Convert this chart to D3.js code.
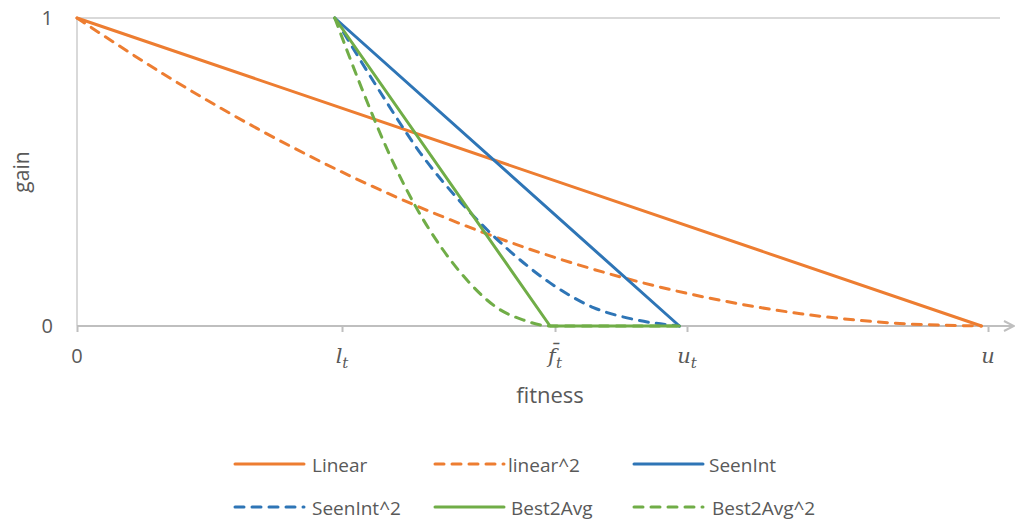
<!DOCTYPE html>
<html>
<head>
<meta charset="utf-8">
<script src="https://cdn.jsdelivr.net/npm/d3@7"></script>
<style>
  html, body { margin: 0; padding: 0; background: #fff; }
  svg { display: block; }
  text { font-family: "Open Sans", "Noto Sans", sans-serif; fill: #595959; }
  .math { font-family: "DejaVu Serif", "Liberation Serif", serif; font-style: italic; fill: #595959; }
</style>
</head>
<body>
<svg id="chart" width="1016" height="526"></svg>
<script>
// Fitness positions (u = 1)
const lowT = 0.285, avgT = 0.523, upT = 0.666, upper = 1;

// x-axis ticks: position and label parts (main letter, subscript, overbar)
const tickValues = [0, 0.293, 0.5285, 0.6744, 1.0072];
const tickMain = ["0", "l", "f", "u", "u"];
const tickSub = ["", "t", "t", "t", ""];
const tickBar = [false, false, true, false, false];

// gain curves
const linear = [[0, 1], [upper, 0]];
const linearSq = [
  [0, 1], [0.1, 0.81], [0.2, 0.64], [0.3, 0.49], [0.4, 0.36], [0.5, 0.25],
  [0.6, 0.16], [0.7, 0.09], [0.8, 0.04], [0.9, 0.01], [1, 0]
];
const seenInt = [[lowT, 1], [upT, 0]];
const seenIntSq = [
  [0.285, 1], [0.333, 0.77], [0.380, 0.56], [0.428, 0.39], [0.476, 0.25],
  [0.523, 0.14], [0.571, 0.06], [0.618, 0.02], [0.666, 0]
];
const best2Avg = [[lowT, 1], [avgT, 0], [upT, 0]];
const best2AvgSq = [
  [0.285, 1], [0.315, 0.77], [0.345, 0.56], [0.374, 0.39], [0.404, 0.25],
  [0.434, 0.14], [0.464, 0.06], [0.493, 0.02], [0.523, 0], [0.666, 0]
];

const seriesNames = ["Linear", "linear^2", "SeenInt", "SeenInt^2", "Best2Avg", "Best2Avg^2"];
const seriesData = [linear, linearSq, seenInt, seenIntSq, best2Avg, best2AvgSq];
const seriesColors = ["#ED7D31", "#ED7D31", "#2E75B6", "#2E75B6", "#70AD47", "#70AD47"];
const seriesDashed = [false, true, false, true, false, true];

const svg = d3.select("#chart");
const x = d3.scaleLinear().domain([0, 1]).range([77, 981.5]);
const y = d3.scaleLinear().domain([0, 1]).range([326, 18]);

const DASH = "9,8";

// top gridline and vertical axis
svg.append("line").attr("x1", x(0)).attr("x2", 1000).attr("y1", y(1)).attr("y2", y(1))
  .attr("stroke", "#d9d9d9").attr("stroke-width", 2);
svg.append("line").attr("x1", x(0)).attr("x2", x(0)).attr("y1", y(1)).attr("y2", y(0))
  .attr("stroke", "#d9d9d9").attr("stroke-width", 2);

// y labels
const yAxis = d3.axisLeft(y).tickValues([0, 1]).tickFormat(d3.format("d")).tickSize(0).tickPadding(24);
const gy = svg.append("g").attr("transform", `translate(${x(0)},0)`).call(yAxis);
gy.select(".domain").remove();
gy.selectAll("text").style("font-family", "'Open Sans', 'Noto Sans', sans-serif")
  .attr("font-size", 20).attr("fill", "#595959");

// x axis with arrow head
svg.append("defs").append("marker")
  .attr("id", "arrow").attr("viewBox", "0 0 12 12").attr("refX", 11).attr("refY", 6)
  .attr("markerWidth", 12).attr("markerHeight", 12).attr("markerUnits", "userSpaceOnUse")
  .attr("orient", "auto")
  .append("path").attr("d", "M1,1 L11,6 L1,11").attr("fill", "none")
  .attr("stroke", "#bfbfbf").attr("stroke-width", 2);

svg.append("line").attr("x1", x(0)).attr("x2", 1014).attr("y1", y(0)).attr("y2", y(0))
  .attr("stroke", "#bfbfbf").attr("stroke-width", 2).attr("marker-end", "url(#arrow)");

const xAxis = d3.axisBottom(x).tickValues(tickValues).tickSize(6).tickFormat("");
const gx = svg.append("g").attr("transform", `translate(0,${y(0)})`).call(xAxis);
gx.select(".domain").remove();
gx.selectAll(".tick line").attr("stroke", "#bfbfbf").attr("stroke-width", 2);

// x tick labels
tickValues.forEach((v, i) => {
  const t = svg.append("text").attr("x", x(v)).attr("y", 363)
    .attr("text-anchor", "middle");
  if (i === 0) {
    t.text(tickMain[i]).attr("font-size", 20);
    return;
  }
  t.attr("class", "math").attr("font-size", 21);
  t.append("tspan").text(tickBar[i] ? tickMain[i] + "\u0304" : tickMain[i]);
  if (tickSub[i]) t.append("tspan").attr("dy", 5).attr("font-size", 15).text(tickSub[i]);
});

// axis titles
svg.append("text").attr("x", 550).attr("y", 403).attr("text-anchor", "middle")
  .attr("font-size", 22).text("fitness");
svg.append("text").attr("transform", `translate(29,${(y(0) + y(1)) / 2}) rotate(-90)`)
  .attr("text-anchor", "middle").attr("font-size", 21).text("gain");

// curves: straight segments for the linear rules, smooth for the squared ones
const straight = d3.line().x(d => x(d[0])).y(d => y(d[1]));
const smooth = d3.line().x(d => x(d[0])).y(d => y(d[1])).curve(d3.curveMonotoneX);
seriesData.forEach((data, i) => {
  svg.append("path").datum(data).attr("d", seriesDashed[i] ? smooth : straight)
    .attr("fill", "none").attr("stroke", seriesColors[i]).attr("stroke-width", 3)
    .attr("stroke-linecap", "round").attr("stroke-linejoin", "round")
    .attr("stroke-dasharray", seriesDashed[i] ? DASH : null);
});

// legend
const legendX = [235, 435, 634];
const legendY = [464, 507];
const legendTextX = [312, 508, 709];
seriesNames.forEach((name, i) => {
  const col = i % 3, row = Math.floor(i / 3);
  const g = svg.append("g");
  g.append("line").attr("x1", legendX[col]).attr("x2", legendX[col] + 69)
    .attr("y1", legendY[row]).attr("y2", legendY[row])
    .attr("stroke", seriesColors[i]).attr("stroke-width", 3)
    .attr("stroke-linecap", "round")
    .attr("stroke-dasharray", seriesDashed[i] ? DASH : null);
  g.append("text").attr("x", legendTextX[col] + (row === 1 && col > 0 ? 3 : 0))
    .attr("y", legendY[row] + 8).attr("font-size", 19).text(name);
});
</script>
</body>
</html>
